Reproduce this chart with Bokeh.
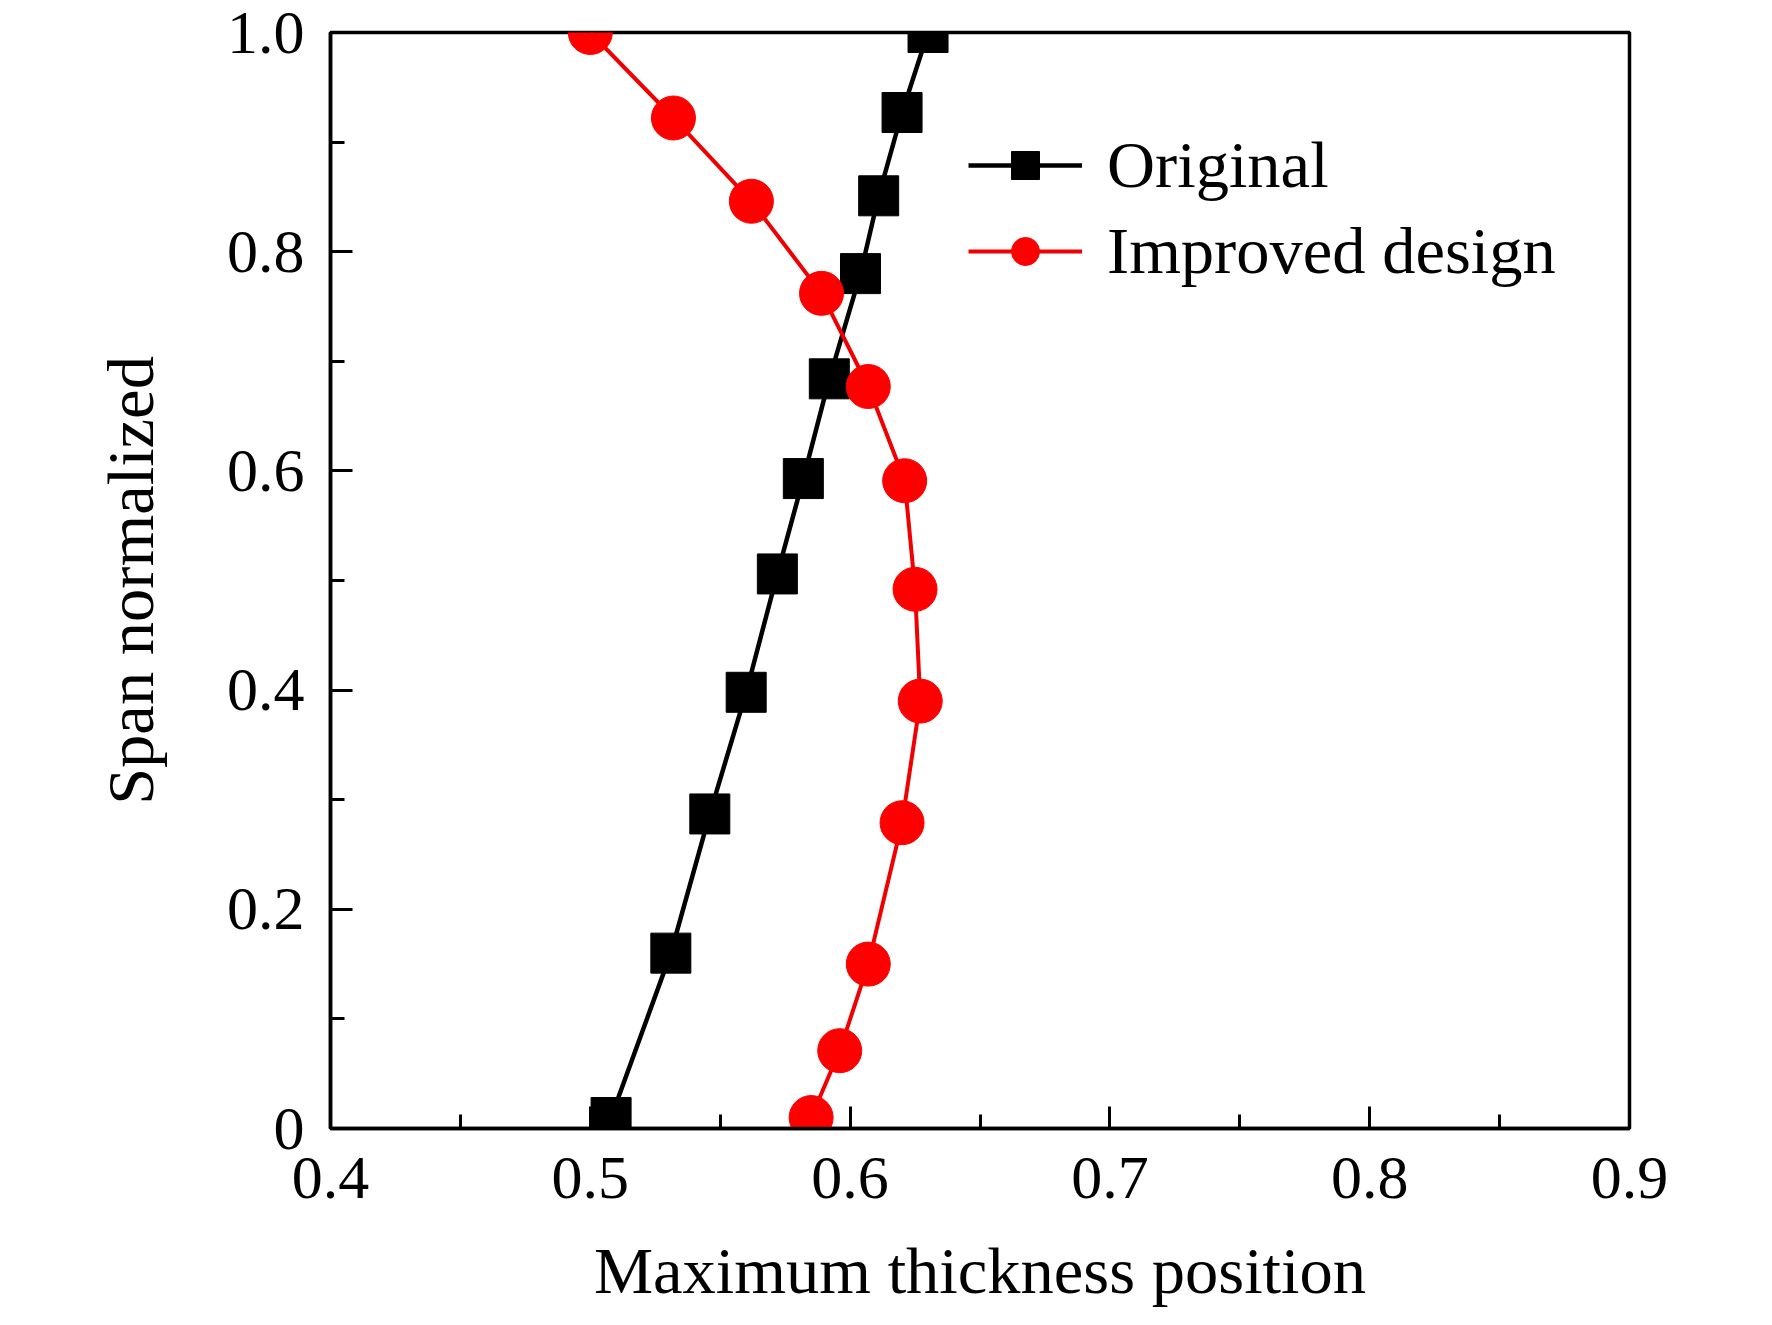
from bokeh.plotting import figure
from bokeh.models import ColumnDataSource, Range1d, FixedTicker, Legend, LegendItem
from bokeh.embed import file_html
from bokeh.resources import INLINE

# ---- data ----
orig_x = [0.630, 0.620, 0.611, 0.604, 0.592, 0.582, 0.572, 0.560, 0.546, 0.531, 0.508]
orig_y = [1.000, 0.927, 0.851, 0.780, 0.684, 0.593, 0.506, 0.398, 0.287, 0.160, 0.010]
imp_x = [0.500, 0.532, 0.562, 0.589, 0.607, 0.621, 0.625, 0.627, 0.620, 0.607, 0.596, 0.585]
imp_y = [1.000, 0.922, 0.846, 0.762, 0.677, 0.591, 0.492, 0.390, 0.279, 0.150, 0.071, 0.010]

x_ticks = [0.4, 0.5, 0.6, 0.7, 0.8, 0.9]
x_minor = [0.45, 0.55, 0.65, 0.75, 0.85]
y_ticks = [0.0, 0.2, 0.4, 0.6, 0.8, 1.0]
y_minor = [0.1, 0.3, 0.5, 0.7, 0.9]
y_tick_labels = ["0", "0.2", "0.4", "0.6", "0.8", "1.0"]
x_tick_labels = ["0.4", "0.5", "0.6", "0.7", "0.8", "0.9"]

x_title = "Maximum thickness position"
y_title = "Span normalized"
series_names = ["Original", "Improved design"]

FONT = "Liberation Serif"

p = figure(width=1756, height=1309, output_backend="svg", toolbar_location=None,
           x_range=Range1d(0.4, 0.9), y_range=Range1d(0.0, 1.0),
           min_border_left=330, min_border_right=127, min_border_top=32, min_border_bottom=178)
p.background_fill_color = "white"
p.border_fill_color = "white"
p.xgrid.visible = False
p.ygrid.visible = False
p.outline_line_color = "black"
p.outline_line_width = 3.5
p.outline_line_alpha = 1.0

src_o = ColumnDataSource(dict(x=orig_x, y=orig_y))
src_i = ColumnDataSource(dict(x=imp_x, y=imp_y))

lo = p.line("x", "y", source=src_o, line_color="black", line_width=4.5)
so = p.scatter("x", "y", source=src_o, marker="square", size=40, fill_color="black", line_color="black")
li = p.line("x", "y", source=src_i, line_color="#f00000", line_width=4)
si = p.scatter("x", "y", source=src_i, marker="circle", size=44, fill_color="#ff0000", line_color="#ff0000")

# axes
xa = p.xaxis[0]
xa.ticker = FixedTicker(ticks=x_ticks, minor_ticks=x_minor)
xa.major_label_overrides = {t: l for t, l in zip(x_ticks, x_tick_labels)}
ya = p.yaxis[0]
ya.ticker = FixedTicker(ticks=y_ticks, minor_ticks=y_minor)
ya.major_label_overrides = {t: l for t, l in zip(y_ticks, y_tick_labels)}

for ax in (xa, ya):
    ax.axis_line_color = "black"
    ax.axis_line_width = 3.5
    ax.major_tick_line_color = "black"
    ax.major_tick_line_width = 3
    ax.minor_tick_line_color = "black"
    ax.minor_tick_line_width = 3
    ax.major_tick_in = 22
    ax.major_tick_out = 0
    ax.minor_tick_in = 14
    ax.minor_tick_out = 0
    ax.major_label_text_font = FONT
    ax.major_label_text_font_size = "62px"
    ax.major_label_text_color = "black"
    ax.axis_label_text_font = FONT
    ax.axis_label_text_font_size = "66.5px"
    ax.axis_label_text_font_style = "normal"
    ax.axis_label_text_color = "black"

xa.axis_label = x_title
xa.major_label_standoff = 29
xa.axis_label_standoff = 33
ya.axis_label = y_title
ya.major_label_standoff = 26
ya.axis_label_standoff = 57

legend = Legend(items=[LegendItem(label=series_names[0], renderers=[lo, so]),
                       LegendItem(label=series_names[1], renderers=[li, si])],
                location=(638, 839))
legend.border_line_color = None
legend.background_fill_alpha = 0
legend.margin = 0
legend.padding = 0
legend.spacing = 10
legend.glyph_width = 114
legend.glyph_height = 70
legend.label_height = 70
legend.label_standoff = 25
legend.label_text_font = FONT
legend.label_text_font_size = "66.5px"
legend.label_text_color = "black"
legend.label_text_baseline = "middle"
p.add_layout(legend)

open("out.html", "w").write(file_html(p, INLINE))
